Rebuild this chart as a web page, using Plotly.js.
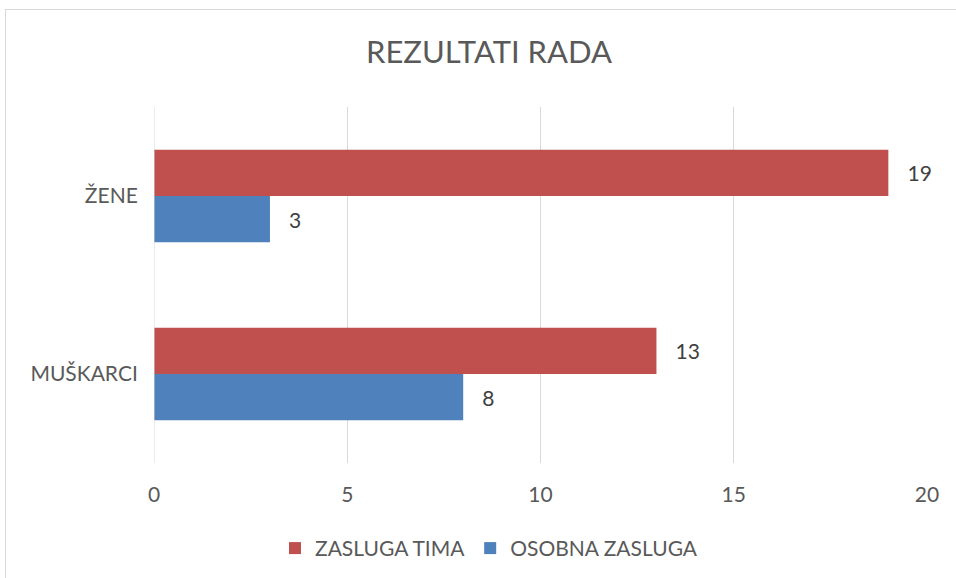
<!DOCTYPE html>
<html><head><meta charset="utf-8">
<script src="https://cdn.plot.ly/plotly-3.0.1.min.js"></script>
<style>
body{margin:0;padding:0;background:#fff;}
#chart{width:956px;height:578px;}
#frame{position:absolute;left:5px;top:9px;width:960px;height:600px;border:1px solid #d9d9d9;pointer-events:none;}
</style></head>
<body>
<div id="chart"></div><div id="frame"></div>
<script>
const categories = ["MUŠKARCI", "ŽENE"];
const seriesNames = ["OSOBNA ZASLUGA", "ZASLUGA TIMA"];
const osobnaZasluga = [8, 3];
const zaslugaTima = [13, 19];
const xTicks = [0, 5, 10, 15, 20];

const FONT = "Lato, 'Open Sans', sans-serif";
const PAD = '\u00a0\u00a0\u00a0';
const traces = [
  {type:'bar', orientation:'h', name:seriesNames[0], y:categories, x:osobnaZasluga,
   marker:{color:'#4F81BD'}, text:osobnaZasluga.map(v => PAD + v), textposition:'outside',
   textfont:{size:21,color:'#404040',family:FONT}, cliponaxis:false},
  {type:'bar', orientation:'h', name:seriesNames[1], y:categories, x:zaslugaTima,
   marker:{color:'#C0504D'}, text:zaslugaTima.map(v => PAD + v), textposition:'outside',
   textfont:{size:21,color:'#404040',family:FONT}, cliponaxis:false}
];
const layout = {
  autosize:false, width:956, height:578,
  margin:{l:154, r:29, t:107, b:115, autoexpand:false},
  paper_bgcolor:'rgba(0,0,0,0)', plot_bgcolor:'#fff',
  font:{family:FONT, color:'#595959', size:21},
  title:{text:'REZULTATI RADA', x:0.5115, xref:'container', xanchor:'center', y:0.91, yanchor:'middle',
         font:{size:31,color:'#595959',family:FONT}},
  barmode:'group', bargap:0.48, bargroupgap:0,
  xaxis:{range:[0,20], tickvals:xTicks, showgrid:true, gridcolor:'#d9d9d9', gridwidth:1,
         zeroline:false, showline:false, ticks:'outside', ticklen:13, tickcolor:'rgba(0,0,0,0)',
         tickfont:{size:21,color:'#595959'}},
  yaxis:{type:'category', range:[-0.5,1.5], showgrid:false, zeroline:false, showline:false,
         ticks:'outside', ticklen:11, tickcolor:'rgba(0,0,0,0)', tickfont:{size:21,color:'#595959'}},
  shapes:[{type:'line', xref:'x', yref:'paper', x0:0, x1:0, y0:0, y1:1, line:{color:'#d9d9d9', width:1}}],
  showlegend:true,
  legend:{orientation:'h', traceorder:'reversed', x:0.5115, xref:'container', xanchor:'center', y:-0.24, yanchor:'middle',
          font:{size:21,color:'#595959'}},
};
Plotly.newPlot('chart', traces, layout, {displayModeBar:false, staticPlot:true});
</script>
</body></html>
